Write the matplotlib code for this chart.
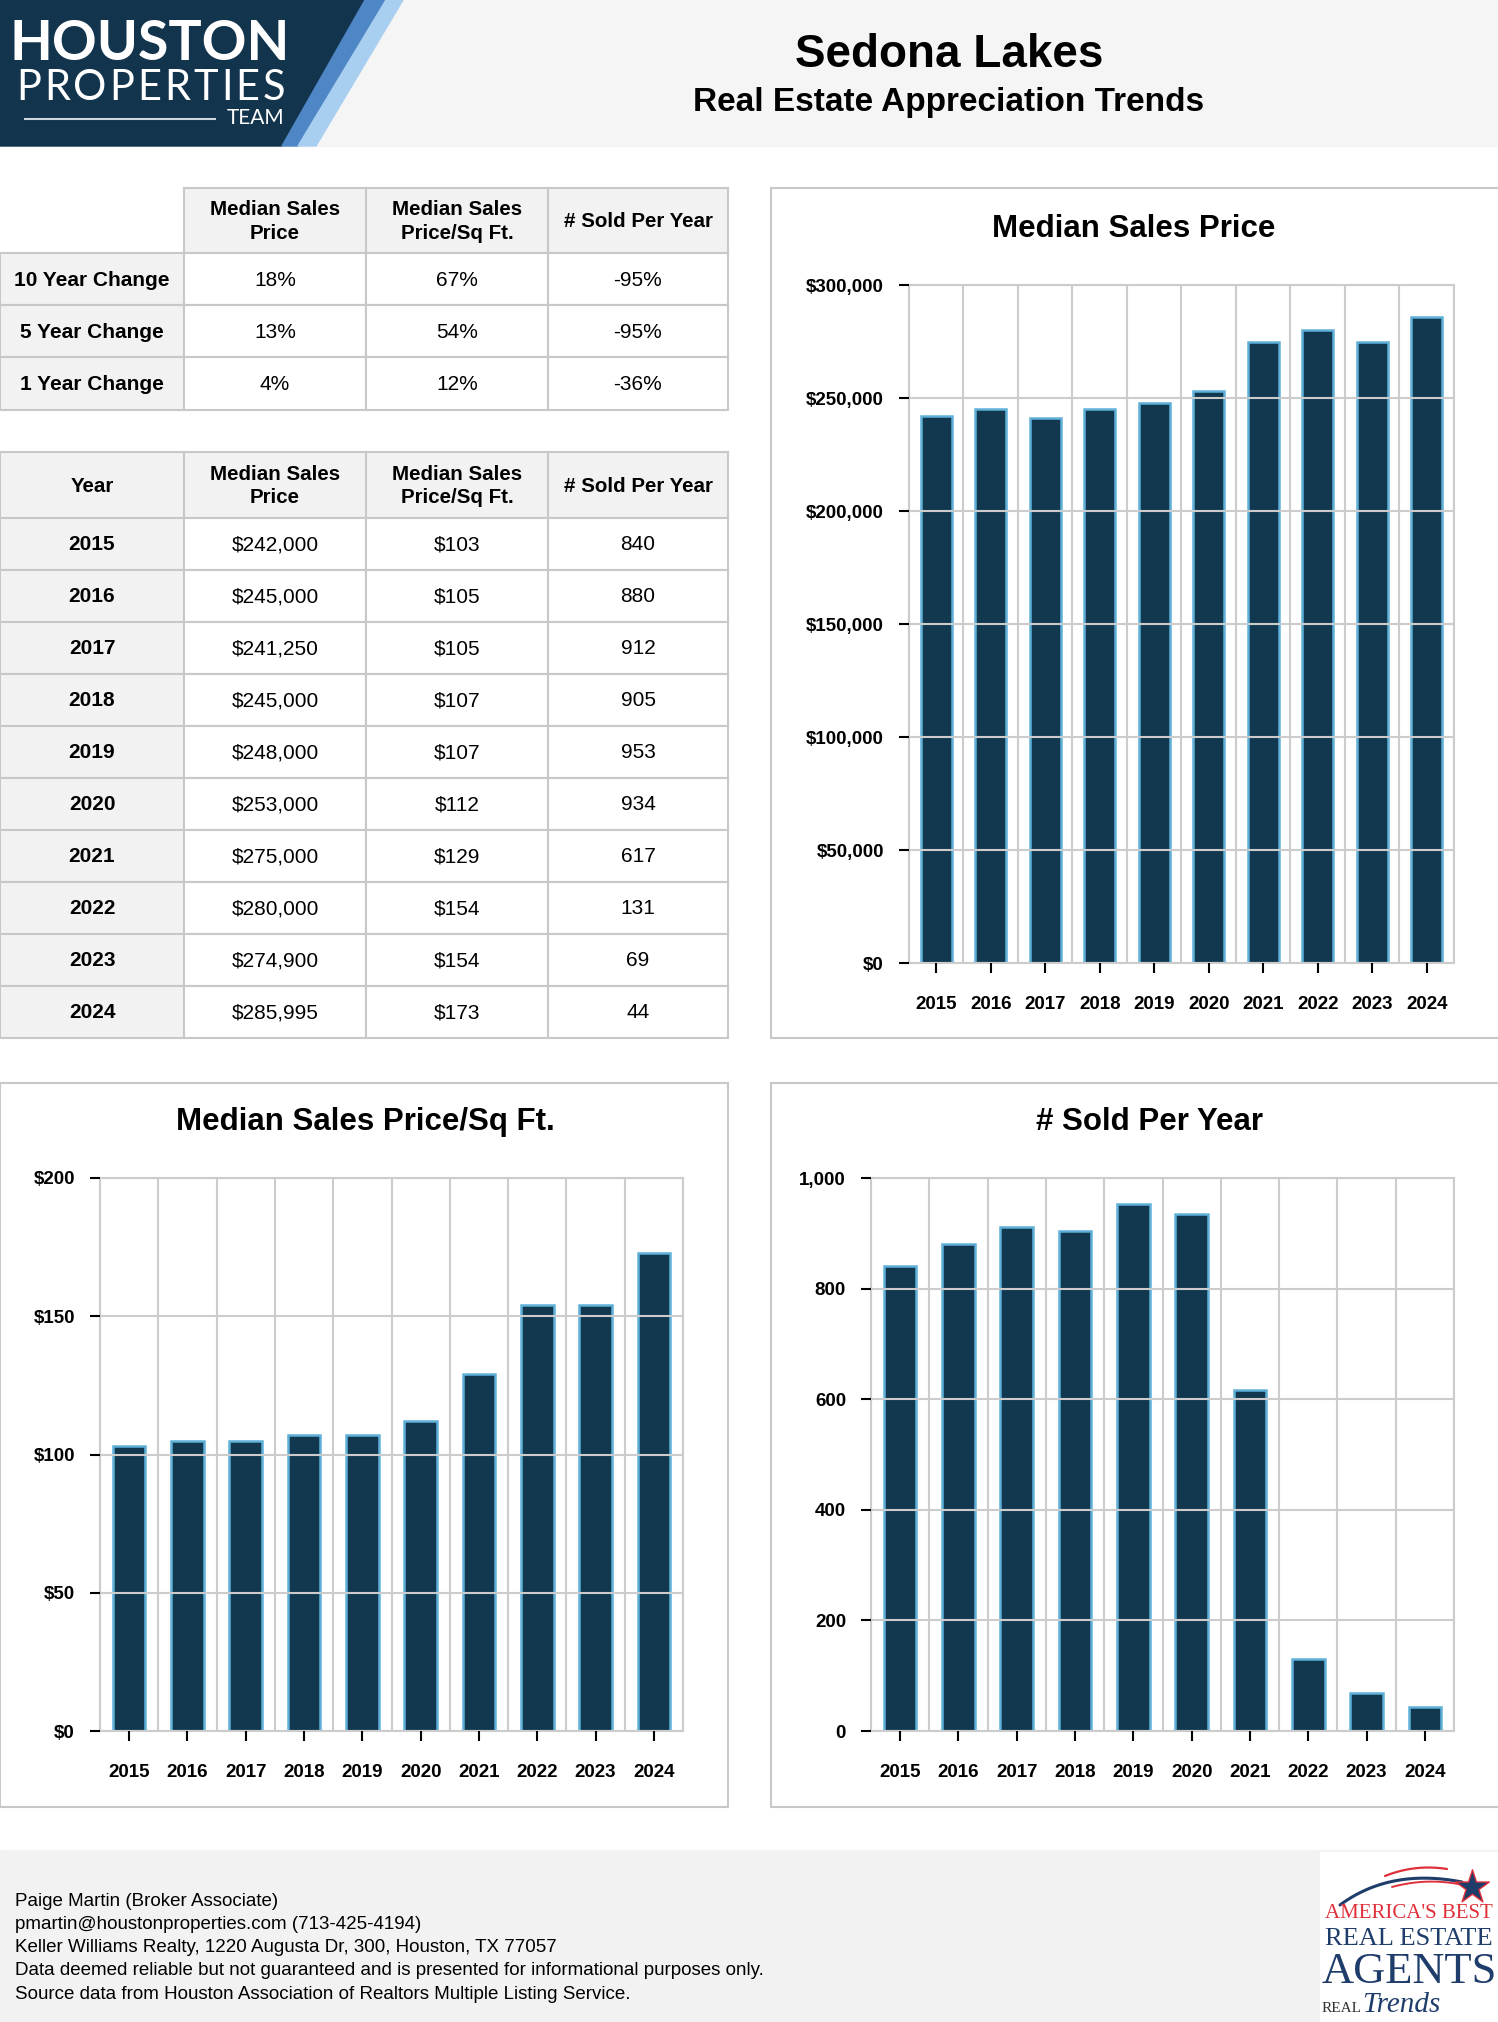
import numpy as np
import matplotlib
matplotlib.use("Agg")
import matplotlib.pyplot as plt
from matplotlib.patches import Rectangle, Polygon
from matplotlib.ticker import FuncFormatter

plt.rcParams['font.family'] = ['Liberation Sans', 'DejaVu Sans']

# ---------------- data
years = [2015, 2016, 2017, 2018, 2019, 2020, 2021, 2022, 2023, 2024]
median_price = [242000, 245000, 241250, 245000, 248000, 253000, 275000, 280000, 274900, 285995]
price_sqft = [103, 105, 105, 107, 107, 112, 129, 154, 154, 173]
sold_per_year = [840, 880, 912, 905, 953, 934, 617, 131, 69, 44]

col_heads = ["Median Sales\nPrice", "Median Sales\nPrice/Sq Ft.", "# Sold Per Year"]
change_labels = ["10 Year Change", "5 Year Change", "1 Year Change"]
change_price = ["18%", "13%", "4%"]
change_sqft = ["67%", "54%", "12%"]
change_sold = ["-95%", "-95%", "-36%"]

footer_lines = [
    "Paige Martin (Broker Associate)",
    "pmartin@houstonproperties.com (713-425-4194)",
    "Keller Williams Realty, 1220 Augusta Dr, 300, Houston, TX 77057",
    "Data deemed reliable but not guaranteed and is presented for informational purposes only.",
    "Source data from Houston Association of Realtors Multiple Listing Service.",
]

W, H = 1498, 2022
NAVY = "#12384f"
EDGE = "#5eb0da"
GRID = "#cccccc"
BORDER = "#c8c8c8"
HEAD_BG = "#f2f2f2"

fig = plt.figure(figsize=(W / 100, H / 100), dpi=100)

# background axes in pixel coords (y down)
bg = fig.add_axes([0, 0, 1, 1])
bg.set_xlim(0, W)
bg.set_ylim(H, 0)
bg.axis('off')

# header band
bg.add_patch(Rectangle((0, 0), W, 146, color="#f5f5f5", zorder=0))
bg.text(949, 55, "Sedona Lakes", ha='center', va='center', fontsize=33, fontweight='bold')
bg.text(949, 102, "Real Estate Appreciation Trends", ha='center', va='center', fontsize=24, fontweight='bold')

# logo
bg.add_patch(Polygon([(0, 0), (365, 0), (282, 146), (0, 146)], closed=True, color="#12344d", zorder=1))
bg.add_patch(Polygon([(365, 0), (386, 0), (298, 146), (282, 146)], closed=True, color="#4f86c6", zorder=1))
bg.add_patch(Polygon([(386, 0), (403, 0), (316, 146), (298, 146)], closed=True, color="#a9cff0", zorder=1))
bg.text(150, 44, "HOUSTON", ha='center', va='center', color='white', fontsize=40,
        fontweight='bold', family='Lato', zorder=2)

# spaced-out "PROPERTIES": measure glyphs, then spread them evenly
renderer = fig.canvas.get_renderer()
letters = "PROPERTIES"
objs = [bg.text(0, 88, ch, ha='left', va='center', color='white', fontsize=30,
                family='Lato', zorder=2) for ch in letters]
widths = [o.get_window_extent(renderer).width for o in objs]
gap = (285 - 16 - sum(widths)) / (len(letters) - 1)
xpos = 16
for o, w in zip(objs, widths):
    o.set_x(xpos)
    xpos += w + gap
bg.plot([25, 215], [119, 119], color='white', lw=1.5, alpha=0.8, zorder=2)
bg.text(284, 118, "TEAM", ha='right', va='center', color='white', fontsize=15,
        family='Lato', zorder=2)


def cell(x0, y0, x1, y1, txt, bold=False, fill='white', size=15):
    bg.add_patch(Rectangle((x0, y0), x1 - x0, y1 - y0, facecolor=fill,
                           edgecolor=BORDER, lw=1.5, zorder=2))
    bg.text((x0 + x1) / 2, (y0 + y1) / 2 + 1, txt, ha='center', va='center',
            fontsize=size, fontweight='bold' if bold else 'normal',
            linespacing=1.3, zorder=3)


# table 1: changes
cx = [0, 184, 366, 548, 728]
ry1 = [188, 253, 305, 357, 410]
for j, h in enumerate(col_heads):
    cell(cx[j + 1], ry1[0], cx[j + 2], ry1[1], h, bold=True, fill=HEAD_BG, size=14.8)
for i, lab in enumerate(change_labels):
    vals = [change_price[i], change_sqft[i], change_sold[i]]
    cell(cx[0], ry1[i + 1], cx[1], ry1[i + 2], lab, bold=True, fill=HEAD_BG)
    for j, v in enumerate(vals):
        cell(cx[j + 1], ry1[i + 1], cx[j + 2], ry1[i + 2], v)

# table 2: yearly
ry2 = [452] + list(np.linspace(518, 1038, 11))
cell(cx[0], ry2[0], cx[1], ry2[1], "Year", bold=True, fill=HEAD_BG, size=14.8)
for j, h in enumerate(col_heads):
    cell(cx[j + 1], ry2[0], cx[j + 2], ry2[1], h, bold=True, fill=HEAD_BG, size=14.8)
for i, yr in enumerate(years):
    cell(cx[0], ry2[i + 1], cx[1], ry2[i + 2], str(yr), bold=True, fill=HEAD_BG)
    cell(cx[1], ry2[i + 1], cx[2], ry2[i + 2], "${:,.0f}".format(median_price[i]))
    cell(cx[2], ry2[i + 1], cx[3], ry2[i + 2], "${:,.0f}".format(price_sqft[i]))
    cell(cx[3], ry2[i + 1], cx[4], ry2[i + 2], str(sold_per_year[i]))

# footer
bg.add_patch(Rectangle((0, 1850), W, H - 1850, color="#f2f2f2", zorder=0))
for k, line in enumerate(footer_lines):
    bg.text(15, 1901 + k * 23.3, line, ha='left', va='center', fontsize=13.5, zorder=2)

# footer logo
bg.add_patch(Rectangle((1320, 1852), 178, 170, color='white', zorder=1))


def swoosh(p0, p1, p2, color, lw):
    t = np.linspace(0, 1, 40)[:, None]
    pts = (1 - t) ** 2 * np.array(p0) + 2 * (1 - t) * t * np.array(p1) + t ** 2 * np.array(p2)
    bg.plot(pts[:, 0], pts[:, 1], color=color, lw=lw, solid_capstyle='round', zorder=2)


swoosh((1340, 1905), (1390, 1868), (1462, 1882), "#1f3d6a", 2.2)
swoosh((1385, 1876), (1415, 1864), (1447, 1869), "#e0303a", 1.6)
swoosh((1392, 1887), (1425, 1878), (1458, 1884), "#e0303a", 1.4)
bg.scatter([1472], [1887], marker='*', s=650, color="#1f3d6a", edgecolor="#e0303a", lw=1, zorder=3)
bg.text(1409, 1914, "AMERICA'S BEST", ha='center', va='center', color="#e0303a",
        fontsize=15, family='Liberation Serif', zorder=3)
bg.text(1409, 1939, "REAL ESTATE", ha='center', va='center', color="#1f3d6a",
        fontsize=19, family='Liberation Serif', zorder=3)
bg.text(1409, 1972, "AGENTS", ha='center', va='center', color="#1f3d6a",
        fontsize=32, family='Liberation Serif', zorder=3)
bg.text(1322, 2008, "REAL", ha='left', va='center', color="#333333",
        fontsize=11, family='Liberation Serif', zorder=3)
bg.text(1362, 2005, "Trends", ha='left', va='center', color="#1f3d6a",
        fontsize=21, style='italic', family='Liberation Serif', zorder=3)

# chart panels
panels = [(771, 188, 1500, 1038), (0, 1083, 728, 1807), (771, 1083, 1500, 1807)]
for x0, y0, x1, y1 in panels:
    bg.add_patch(Rectangle((x0, y0), x1 - x0, y1 - y0, facecolor='white',
                           edgecolor=BORDER, lw=1.5, zorder=1))


def bar_chart(px0, py0, px1, py1, values, ymax, step, fmt, title, tx, ty):
    ax = fig.add_axes([px0 / W, 1 - py1 / H, (px1 - px0) / W, (py1 - py0) / H])
    x = np.arange(len(years))
    ax.bar(x, values, width=0.56, color=NAVY, edgecolor=EDGE, linewidth=1.8, zorder=2)
    ax.set_xlim(-0.5, len(years) - 0.5)
    ax.set_ylim(0, ymax)
    ax.set_yticks(np.arange(0, ymax + 1, step))
    ax.yaxis.set_major_formatter(FuncFormatter(fmt))
    ax.set_xticks(x)
    ax.set_xticklabels([str(y) for y in years])
    ax.set_xticks(np.arange(-0.5, len(years), 1), minor=True)
    ax.grid(axis='y', which='major', color=GRID, lw=1.5, zorder=3)
    ax.grid(axis='x', which='minor', color=GRID, lw=1.5)
    ax.set_axisbelow(False)
    for s in ax.spines.values():
        s.set_color(GRID)
        s.set_linewidth(1.5)
    ax.tick_params(axis='y', which='major', length=7, width=1.5, color='black', pad=11,
                   labelsize=13.5)
    ax.tick_params(axis='x', which='major', length=7, width=1.5, color='black', pad=17,
                   labelsize=13.5)
    ax.tick_params(which='minor', length=0)
    for lab in ax.get_xticklabels() + ax.get_yticklabels():
        lab.set_fontweight('bold')
    bg.text(tx, ty, title, ha='center', va='center', fontsize=22.5, fontweight='bold', zorder=3)
    return ax


bar_chart(909, 285, 1454, 963, median_price, 300000, 50000,
          lambda v, p: "${:,.0f}".format(v), "Median Sales Price", 1134, 229)
bar_chart(100, 1178, 683, 1731, price_sqft, 200, 50,
          lambda v, p: "${:,.0f}".format(v), "Median Sales Price/Sq Ft.", 365, 1122)
bar_chart(871, 1178, 1454, 1731, sold_per_year, 1000, 200,
          lambda v, p: "{:,.0f}".format(v), "# Sold Per Year", 1149, 1122)

fig.savefig("out.png", dpi=100)
